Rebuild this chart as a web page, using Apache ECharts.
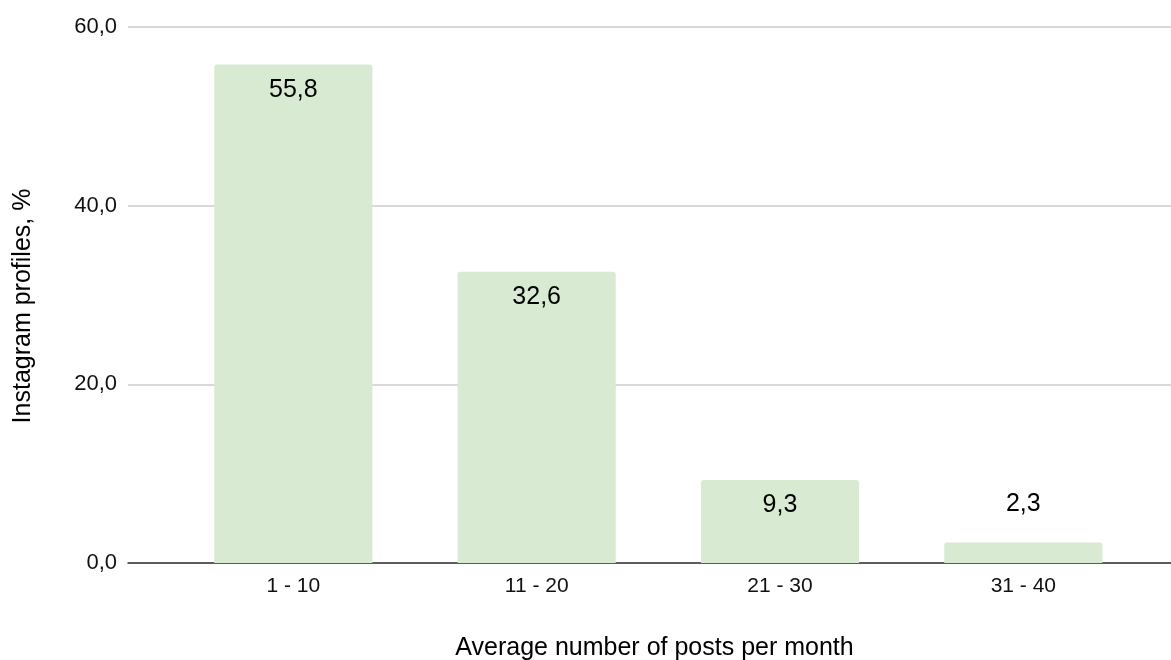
<!DOCTYPE html>
<html>
<head>
<meta charset="utf-8">
<script src="https://cdn.jsdelivr.net/npm/echarts@6/dist/echarts.min.js"></script>
<style>
html,body{margin:0;padding:0;background:#fff;}
#chart{width:1171px;height:660px;}
</style>
</head>
<body>
<div id="chart"></div>
<script>
const categories = ['1 - 10', '11 - 20', '21 - 30', '31 - 40'];
const values = [55.8, 32.6, 9.3, 2.3];
const yTicks = [0, 20, 40, 60];
const xAxisTitle = 'Average number of posts per month';
const yAxisTitle = 'Instagram profiles, %';

const FONT = '"Liberation Sans", Arial, Helvetica, sans-serif';
const fmt = v => Number(v).toFixed(1).replace('.', ',');

const chart = echarts.init(document.getElementById('chart'), null, {renderer: 'canvas'});

const seriesData = values.map(v => {
  const item = {value: v};
  if (v < 5) {
    item.label = {position: 'top', distance: 26};
  }
  return item;
});

chart.setOption({
  animation: false,
  backgroundColor: '#ffffff',
  textStyle: {fontFamily: FONT},
  grid: [
    {left: 128, right: 0, top: 27, bottom: 97, containLabel: false, outerBoundsMode: 'none'},
    {left: 171.67, right: 26, top: 27, bottom: 97, containLabel: false, outerBoundsMode: 'none'}
  ],
  xAxis: [
    {
      gridIndex: 0, type: 'value', min: 0, max: 1,
      axisLine: {show: true, onZero: false, lineStyle: {color: '#333333', width: 1.5}},
      axisTick: {show: false}, axisLabel: {show: false}, splitLine: {show: false},
      name: xAxisTitle, nameLocation: 'middle', nameGap: 73,
      nameTextStyle: {fontSize: 25, color: '#000000', fontFamily: FONT, padding: [0, 0, 0, 10]}
    },
    {
      gridIndex: 1, type: 'category', data: categories,
      axisLine: {show: false}, axisTick: {show: false}, splitLine: {show: false},
      axisLabel: {fontSize: 21, color: '#111111', margin: 13, fontFamily: FONT}
    }
  ],
  yAxis: [
    {
      gridIndex: 0, type: 'value', min: yTicks[0], max: yTicks[yTicks.length - 1], interval: yTicks[1] - yTicks[0],
      axisLine: {show: false}, axisTick: {show: false},
      axisLabel: {fontSize: 22, color: '#111111', margin: 11, formatter: v => fmt(v), fontFamily: FONT},
      splitLine: {show: true, lineStyle: {color: '#cccccc', width: 1.5}},
      name: yAxisTitle, nameLocation: 'middle', nameGap: 92,
      nameTextStyle: {fontSize: 25, color: '#000000', fontFamily: FONT, padding: [0, 22, 0, 0]}
    },
    {
      gridIndex: 1, type: 'value', min: yTicks[0], max: yTicks[yTicks.length - 1], interval: yTicks[1] - yTicks[0],
      show: false, splitLine: {show: false}
    }
  ],
  series: [{
    type: 'bar',
    xAxisIndex: 1, yAxisIndex: 1,
    data: seriesData,
    barCategoryGap: '35%',
    itemStyle: {color: '#d9ead3', borderRadius: [3, 3, 0, 0]},
    label: {
      show: true, position: 'insideTop', distance: 13,
      fontSize: 25, color: '#000000', fontFamily: FONT,
      formatter: p => fmt(p.value)
    },
    z: 3
  }]
});
</script>
</body>
</html>
